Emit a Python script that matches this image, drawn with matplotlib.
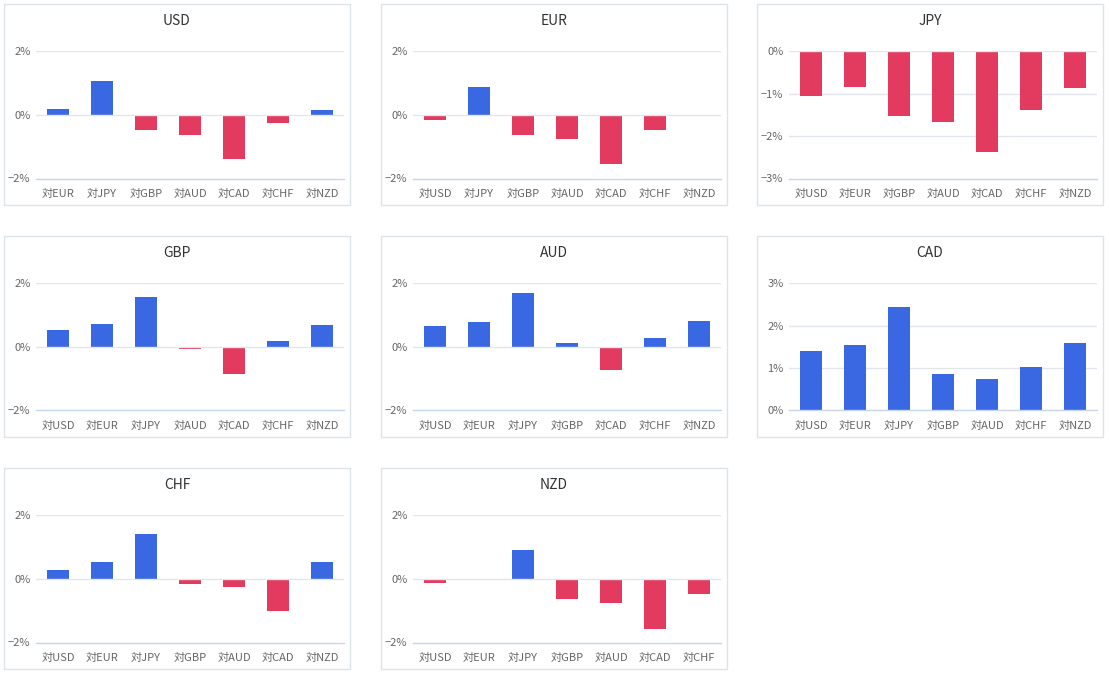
import matplotlib
matplotlib.use("Agg")
import matplotlib.pyplot as plt
from matplotlib.patches import Rectangle
from matplotlib.ticker import FuncFormatter

plt.rcParams['font.family'] = ['Noto Sans CJK JP', 'DejaVu Sans']

currencies = ['USD', 'EUR', 'JPY', 'GBP', 'AUD', 'CAD', 'CHF', 'NZD']

# 各通貨の対他通貨変化率 (%)
usd_vals = [0.17, 1.06, -0.49, -0.62, -1.38, -0.27, 0.14]
eur_vals = [-0.15, 0.86, -0.65, -0.75, -1.54, -0.49, 0.0]
jpy_vals = [-1.06, -0.85, -1.53, -1.67, -2.38, -1.39, -0.88]
gbp_vals = [0.52, 0.71, 1.56, -0.08, -0.84, 0.17, 0.67]
aud_vals = [0.64, 0.77, 1.68, 0.11, -0.72, 0.29, 0.80]
cad_vals = [1.39, 1.53, 2.43, 0.85, 0.74, 1.02, 1.58]
chf_vals = [0.29, 0.52, 1.39, -0.15, -0.27, -1.00, 0.52]
nzd_vals = [-0.12, 0.0, 0.89, -0.65, -0.75, -1.57, -0.49]

all_vals = [usd_vals, eur_vals, jpy_vals, gbp_vals, aud_vals, cad_vals, chf_vals, nzd_vals]
y_ranges = [(-2, 2, 2), (-2, 2, 2), (-3, 0, 1), (-2, 2, 2),
            (-2, 2, 2), (0, 3, 1), (-2, 2, 2), (-2, 2, 2)]

BLUE = '#3a68e2'
RED = '#e33b5f'
W, H = 1109, 675

fig = plt.figure(figsize=(W / 100, H / 100), dpi=100)

box_x = [4, 381, 757]
box_y = [4, 236, 468]
box_w, box_h = 346, 201

for i, base in enumerate(currencies):
    r, c = divmod(i, 3)
    bx, by = box_x[c], box_y[r]
    # パネル枠
    fig.patches.append(Rectangle((bx / W, 1 - (by + box_h) / H), box_w / W, box_h / H,
                                 transform=fig.transFigure, facecolor='none',
                                 edgecolor='#dde4e9', linewidth=1))
    fig.text((bx + box_w / 2) / W, 1 - (by + 17) / H, base, ha='center', va='center',
             fontsize=10, color='#333333')

    left = bx + 32
    top = by + 47
    ax = fig.add_axes([left / W, 1 - (top + 127.5) / H, 308 / W, 127.5 / H])

    labels = ['対' + x for x in currencies if x != base]
    vals = all_vals[i]
    colors = [BLUE if v >= 0 else RED for v in vals]
    ax.bar(range(len(vals)), vals, width=0.48, color=colors, zorder=2)

    lo, hi, step = y_ranges[i]
    ax.set_ylim(lo, hi)
    ax.set_xlim(-0.5, len(vals) - 0.5)
    ticks = list(range(lo, hi + 1, step))
    ax.set_yticks(ticks)
    ax.yaxis.set_major_formatter(FuncFormatter(lambda v, p: f"{v:.0f}%".replace('-', '\u2212')))
    ax.set_xticks(range(len(vals)))
    ax.set_xticklabels(labels)
    ax.tick_params(axis='both', length=0, labelsize=8, colors='#666666')
    ax.tick_params(axis='x', pad=7.5)
    ax.tick_params(axis='y', pad=4)

    for t in ticks:
        if t == lo:
            continue
        ax.axhline(t, color='#e0e6eb', linewidth=1, zorder=1 if t != 0 else 3)

    for s in ['top', 'right', 'left']:
        ax.spines[s].set_visible(False)
    ax.spines['bottom'].set_color('#c6d5e8')
    ax.spines['bottom'].set_linewidth(1)

fig.savefig('out.png', dpi=100)
